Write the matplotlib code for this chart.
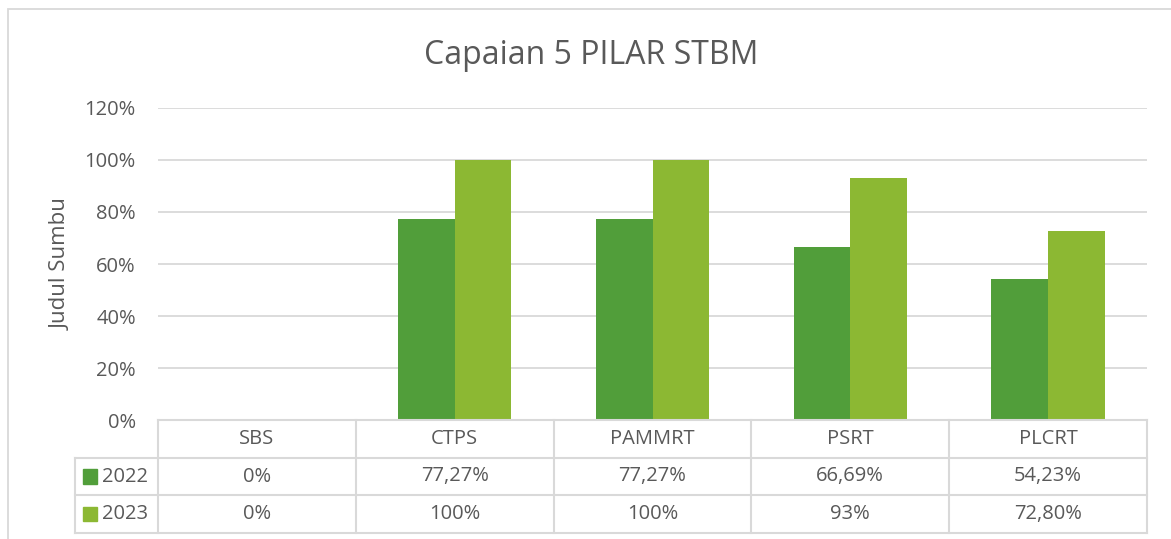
import matplotlib
matplotlib.use("Agg")
import matplotlib.pyplot as plt
from matplotlib.patches import Rectangle
import numpy as np

categories = ["SBS", "CTPS", "PAMMRT", "PSRT", "PLCRT"]
series_names = ["2022", "2023"]
values_2022 = [0, 77.27, 77.27, 66.69, 54.23]
values_2023 = [0, 100, 100, 93, 72.80]
labels_2022 = ["0%", "77,27%", "77,27%", "66,69%", "54,23%"]
labels_2023 = ["0%", "100%", "100%", "93%", "72,80%"]
yticks = [0, 20, 40, 60, 80, 100, 120]
title = "Capaian 5 PILAR STBM"
ylabel = "Judul Sumbu"

c2022 = "#519E3A"
c2023 = "#8CB833"
txt = "#595959"
grid = "#D9D9D9"
font = ["Open Sans", "DejaVu Sans"]
plt.rcParams['font.family'] = font
fs = 14.5

W, H = 1171, 539
fig = plt.figure(figsize=(W/100, H/100), dpi=100)

def fx(px): return px / W
def fy(py): return 1 - py / H

# outer frame
fig.patches.append(Rectangle((fx(8), fy(600)), fx(1200), fy(9) - fy(600), transform=fig.transFigure,
                             fill=False, edgecolor=grid, linewidth=1.3))

pl, pr, pt, pb = 158, 1147, 108, 420
ax = fig.add_axes([fx(pl), fy(pb), fx(pr - pl), fy(pt) - fy(pb)])
x = np.arange(len(categories))
bw = 0.287
ax.bar(x - bw/2, values_2022, bw, color=c2022, zorder=3)
ax.bar(x + bw/2, values_2023, bw, color=c2023, zorder=3)
ax.set_xlim(-0.5, len(categories) - 0.5)
ax.set_ylim(0, 120)
ax.set_yticks(yticks)
ax.set_yticklabels([f"{t}%" for t in yticks], color=txt, fontsize=fs)
ax.tick_params(axis='y', length=0, pad=16)
ax.set_xticks([])
for s in ax.spines.values():
    s.set_visible(False)
ax.yaxis.grid(True, color=grid, linewidth=1.3, zorder=0)
ax.set_ylabel(ylabel, color=txt, fontsize=16, labelpad=9)

fig.text(fx(591), fy(55), title, ha='center', va='center', fontsize=23, color=txt)

# table
tl, tb = 75, 533
tax = fig.add_axes([fx(tl), fy(tb), fx(pr - tl), fy(pb) - fy(tb)])
left_ext = (pl - tl) / (pr - pl) * len(categories)
tax.set_xlim(-0.5 - left_ext, len(categories) - 0.5)
tax.set_ylim(3, 0)
tax.axis('off')
lw = 1.5
xl = -0.5 - left_ext
xr = len(categories) - 0.5
tax.plot([-0.5, xr], [0, 0], color=grid, lw=lw, clip_on=False)
for yy in [1, 2, 3]:
    tax.plot([xl, xr], [yy, yy], color=grid, lw=lw, clip_on=False)
for i in range(len(categories) + 1):
    tax.plot([i - 0.5, i - 0.5], [0, 3], color=grid, lw=lw, clip_on=False)
tax.plot([xl, xl], [1, 3], color=grid, lw=lw, clip_on=False)
for i, c in enumerate(categories):
    tax.text(i, 0.5, c, ha='center', va='center', color=txt, fontsize=fs)
    tax.text(i, 1.5, labels_2022[i], ha='center', va='center', color=txt, fontsize=fs)
    tax.text(i, 2.5, labels_2023[i], ha='center', va='center', color=txt, fontsize=fs)
unit = (pr - pl) / len(categories)
sq = 14 / unit
for r, (name, col) in enumerate(zip(series_names, [c2022, c2023])):
    x0 = xl + 8 / unit
    tax.add_patch(Rectangle((x0, r + 1.5 - 0.19), sq, 0.38, color=col, clip_on=False))
    tax.text(x0 + sq + 5 / unit, r + 1.5, name, ha='left', va='center', color=txt, fontsize=fs)

fig.savefig("out.png", dpi=100)
